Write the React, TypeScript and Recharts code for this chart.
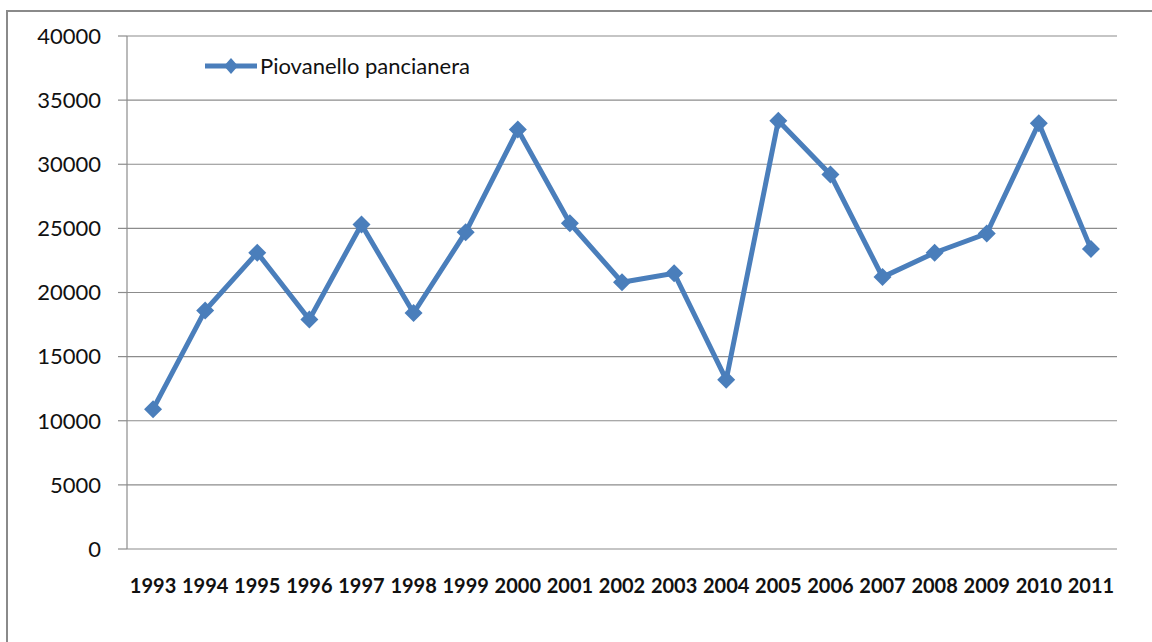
import { ComposedChart, Line, XAxis, YAxis, CartesianGrid } from "recharts";

const years = [
  "1993", "1994", "1995", "1996", "1997", "1998", "1999", "2000", "2001", "2002",
  "2003", "2004", "2005", "2006", "2007", "2008", "2009", "2010", "2011",
];
const counts = [
  10900, 18600, 23100, 17900, 25300, 18400, 24700, 32700, 25400, 20800,
  21500, 13200, 33400, 29200, 21200, 23100, 24600, 33200, 23400,
];
const yTicks = [0, 5000, 10000, 15000, 20000, 25000, 30000, 35000, 40000];
const seriesName = "Piovanello pancianera";

// category slots 0..n on a numeric axis: boundaries at integers, points at centres
const boundaryTicks = years.map((_, i) => i).concat([years.length]);
const centreTicks = years.map((_, i) => i + 0.5);

const BLUE = "#4a7ebb";
const GRID = "#8c8c8c";

const data = years.map((y, i) => ({ year: y, pos: i + 0.5, value: counts[i] }));

function Diamond(props: any) {
  const { cx, cy } = props;
  if (cx == null || cy == null) return null;
  const r = 9;
  return (
    <polygon
      points={`${cx},${cy - r} ${cx + r},${cy} ${cx},${cy + r} ${cx - r},${cy}`}
      fill={BLUE}
    />
  );
}

function LegendBox() {
  return (
    <div style={{ position: "absolute", left: 203, top: 55, display: "flex", alignItems: "center" }}>
      <svg width={56} height={22}>
        <line x1={2} y1={11} x2={54} y2={11} stroke={BLUE} strokeWidth={5} />
        <polygon points="28,3 35,11 28,19 21,11" fill={BLUE} />
      </svg>
      <span style={{ fontFamily: "Lato", fontSize: 22, color: "#111", marginLeft: 1, lineHeight: "22px" }}>
        {seriesName}
      </span>
    </div>
  );
}

export default function App() {
  return (
    <div
      style={{
        position: "absolute",
        left: 0,
        top: 0,
        width: 1152,
        height: 642,
        background: "#fff",
        overflow: "hidden",
      }}
    >
      <div
        style={{
          position: "absolute",
          left: 6,
          top: 10,
          width: 1200,
          height: 700,
          border: "2px solid #8a8a8a",
        }}
      />
      <div style={{ position: "absolute", left: 0, top: 0 }}>
        <ComposedChart
          width={1152}
          height={642}
          data={data}
          margin={{ top: 36, right: 35, left: 67, bottom: 53 }}
        >
          <CartesianGrid vertical={false} stroke={GRID} strokeWidth={1.2} />
          <XAxis
            xAxisId="num"
            type="number"
            dataKey="pos"
            domain={[0, years.length]}
            ticks={boundaryTicks}
            tick={false}
            height={0}
            tickSize={9}
            stroke={GRID}
            strokeWidth={1.2}
          />
          <XAxis
            xAxisId="lab"
            type="number"
            dataKey="pos"
            domain={[0, years.length]}
            ticks={centreTicks}
            tickFormatter={(v: number) => years[Math.floor(v)]}
            axisLine={false}
            tickLine={false}
            tickSize={0}
            tickMargin={30}
            height={40}
            interval={0}
            tick={{ fontFamily: "Lato", fontWeight: 700, fontSize: 20, fill: "#111" }}
          />
          <YAxis
            domain={[0, 40000]}
            ticks={yTicks}
            width={60}
            tickSize={9}
            tickMargin={17}
            stroke={GRID}
            strokeWidth={1.2}
            tick={{ fontFamily: "Lato", fontSize: 22, fill: "#111" }}
          />
          <Line
            xAxisId="num"
            dataKey="value"
            name={seriesName}
            stroke={BLUE}
            strokeWidth={5}
            dot={<Diamond />}
            activeDot={false}
            isAnimationActive={false}
          />
        </ComposedChart>
      </div>
      <LegendBox />
    </div>
  );
}
